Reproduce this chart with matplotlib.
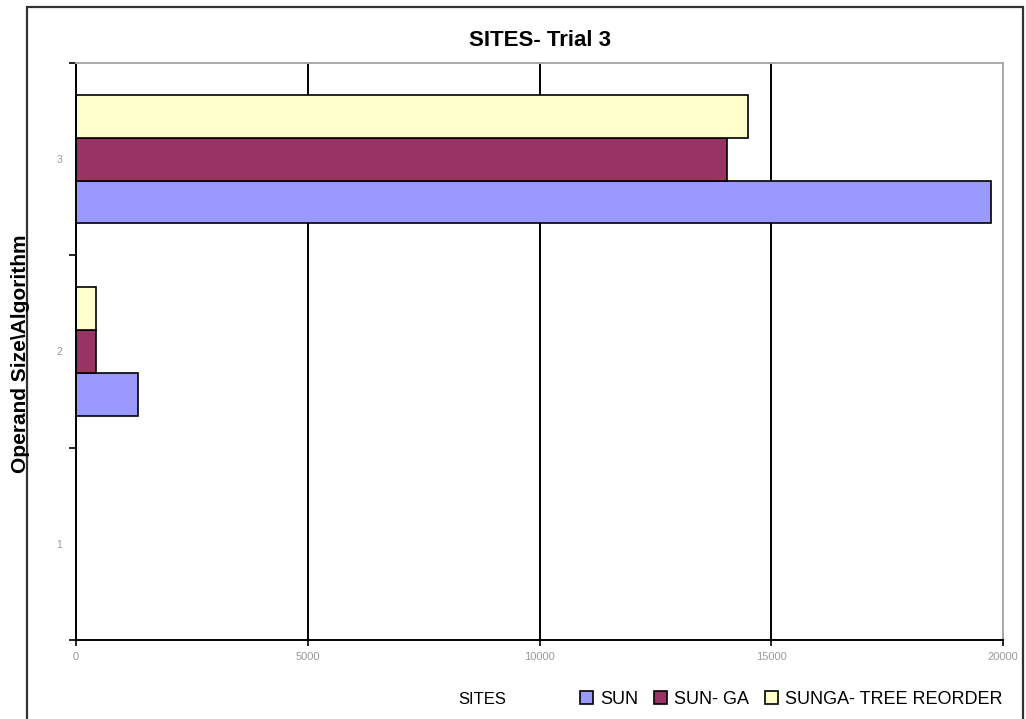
import matplotlib.pyplot as plt
from matplotlib.patches import Rectangle

plt.rcParams['font.family'] = ['Liberation Sans', 'DejaVu Sans']

# data
categories = [1, 2, 3]
series_names = ["SUN", "SUN- GA", "SUNGA- TREE REORDER"]
sun = [0, 1340, 19750]
sun_ga = [0, 430, 14050]
sunga_tree = [0, 440, 14500]
colors = ["#9999FF", "#993366", "#FFFFCC"]

fig = plt.figure(figsize=(10.26, 7.19), dpi=100)
ax = fig.add_axes([0.0741, 0.1099, 0.9035, 0.8025])

# outer chart border
fig.patches.append(Rectangle((27 / 1026, -0.01), (1023 - 27) / 1026, 1 - 7 / 719 + 0.01,
                             transform=fig.transFigure, fill=False,
                             edgecolor="#333333", linewidth=1.6))

h = 0.2222
offsets = [-h, 0, h]
for vals, name, col, off in zip([sun, sun_ga, sunga_tree], series_names, colors, offsets):
    ax.barh([c + off for c in categories], vals, height=h, color=col,
            edgecolor="black", linewidth=1.2, label=name)

ax.set_xlim(0, 20000)
ax.set_ylim(0.5, 3.5)
ax.set_axisbelow(True)
ax.set_xticks([0, 5000, 10000, 15000, 20000])
ax.set_xticklabels(["0", "5000", "10000", "15000", "20000"], fontsize=8, color="#999999")
ax.grid(axis="x", color="black", linewidth=1.4)
ax.tick_params(axis="x", length=4, width=1.2, pad=5)

ax.set_yticks([0.5, 1.5, 2.5, 3.5])
ax.set_yticklabels([])
ax.set_yticks(categories, minor=True)
ax.set_yticklabels(["1", "2", "3"], minor=True, fontsize=7.5, color="#999999")
ax.tick_params(axis="y", which="minor", length=0, pad=10)
ax.tick_params(axis="y", which="major", length=5, width=1.2)

ax.spines["left"].set_linewidth(1.4)
ax.spines["bottom"].set_linewidth(1.4)
ax.spines["top"].set_color("#aaaaaa")
ax.spines["right"].set_color("#aaaaaa")
ax.spines["top"].set_linewidth(1.4)
ax.spines["right"].set_linewidth(1.4)

fig.text(540 / 1026, 1 - 40 / 719, "SITES- Trial 3", ha="center", va="center",
         fontsize=16, fontweight="bold")
fig.text(21 / 1026, 1 - 354 / 719, "Operand Size\\Algorithm", ha="center", va="center",
         rotation=90, fontsize=15, fontweight="bold")
fig.text(482 / 1026, 1 - 699 / 719, "SITES", ha="center", va="center", fontsize=12)

ax.legend(loc="center left", bbox_to_anchor=(580 / 1026, 1 - 699 / 719),
          bbox_transform=fig.transFigure, ncol=3, frameon=False, fontsize=13,
          handlelength=0.7, handleheight=0.7, handletextpad=0.4, columnspacing=0.9,
          borderpad=0, borderaxespad=0)

fig.savefig("out.png", dpi=100)
